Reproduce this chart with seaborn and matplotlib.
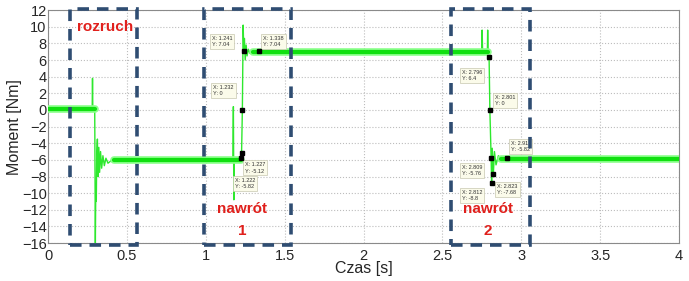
import matplotlib
matplotlib.use("Agg")
import matplotlib.pyplot as plt
import seaborn as sns
import pandas as pd
from matplotlib.patches import Rectangle

# ---- data -------------------------------------------------------------
time_s = [0.0, 0.280, 0.282, 0.284, 0.296, 0.300, 0.303, 0.306, 0.309, 0.313,
          0.317, 0.322, 0.327, 0.333, 0.340, 0.348, 0.357, 0.367, 0.380, 0.400,
          0.420, 0.700, 1.000, 1.172, 1.175, 1.178, 1.181, 1.222, 1.227, 1.232,
          1.237, 1.241, 1.245, 1.250, 1.256, 1.262, 1.270, 1.280, 1.295, 1.338,
          1.800, 2.300, 2.750, 2.752, 2.755, 2.785, 2.787, 2.790, 2.796, 2.801,
          2.809, 2.812, 2.816, 2.823, 2.830, 2.840, 2.855, 2.870, 2.910, 3.300,
          4.000]
torque_nm = [0.1, 0.1, 3.8, 0.1, 0.1, -16.0, -9.0, -11.0, -5.0, -3.5,
             -8.0, -4.5, -7.5, -5.0, -7.0, -5.5, -6.7, -5.8, -6.4, -6.1,
             -6.2, -6.1, -6.0, -5.9, 0.4, -10.8, -5.9, -5.82, -5.12, 0.0,
             10.2, 7.04, 8.6, 6.0, 7.8, 6.5, 7.3, 6.8, 7.1, 7.04,
             7.1, 7.0, 6.9, 9.6, 6.9, 6.8, 9.6, 6.6, 6.4, 0.0,
             -5.76, -8.8, -4.6, -7.68, -5.0, -6.6, -5.5, -6.1, -5.82, -5.9,
             -5.9]

# steady sections (thick, noisy band)
band_start = [0.0, 0.42, 1.30, 2.87]
band_end = [0.296, 1.222, 2.79, 4.0]
band_level = [0.1, -6.0, 7.0, -5.9]

# data tips
tip_x = [1.241, 1.338, 1.232, 1.222, 1.227, 2.796, 2.801, 2.91, 2.809, 2.823, 2.812]
tip_y = [7.04, 7.04, 0.0, -5.82, -5.12, 6.4, 0.0, -5.82, -5.76, -7.68, -8.8]
tip_text = ["X: 1.241\nY: 7.04", "X: 1.338\nY: 7.04", "X: 1.232\nY: 0",
            "X: 1.222\nY: -5.82", "X: 1.227\nY: -5.12", "X: 2.796\nY: 6.4",
            "X: 2.801\nY: 0", "X: 2.91\nY: -5.82", "X: 2.809\nY: -5.76",
            "X: 2.823\nY: -7.68", "X: 2.812\nY: -8.8"]
tip_dx = [-32, 4, -29, -6, 3, -27, 5, 4, -29, 4, -30]
tip_dy = [4, 4, 14, -31, -21, -24, 4, 6, -18, -21, -18]

# highlighted regions
box_x0 = [0.14, 0.987, 2.554]
box_x1 = [0.567, 1.54, 3.057]
box_label = ["rozruch", "nawrót", "nawrót"]
box_num = ["", "1", "2"]
label_x = [0.363, 1.23, 2.79]

x_ticks = [0, 0.5, 1, 1.5, 2, 2.5, 3, 3.5, 4]
x_tick_labels = ["0", "0.5", "1", "1.5", "2", "2.5", "3", "3.5", "4"]
y_ticks = list(range(-16, 13, 2))

# ---- plot -------------------------------------------------------------
sns.set_style("whitegrid", {"grid.linestyle": ":", "grid.color": "#b8b8b8",
                            "axes.edgecolor": "#8a8a8a"})
plt.rcParams["font.family"] = ["Liberation Sans", "DejaVu Sans"]

fig = plt.figure(figsize=(6.89, 2.81), dpi=100)
ax = fig.add_axes([0.0697, 0.135, 0.9158, 0.829])

df = pd.DataFrame({"t": time_s, "m": torque_nm})
sns.lineplot(data=df, x="t", y="m", ax=ax, color="#2ee82e", linewidth=1.0,
             estimator=None, sort=False, zorder=3)

for s, e, lv in zip(band_start, band_end, band_level):
    seg = pd.DataFrame({"t": [s, e], "m": [lv, lv]})
    sns.lineplot(data=seg, x="t", y="m", ax=ax, color="#8cff8c",
                 linewidth=5.5, estimator=None, zorder=3)
    sns.lineplot(data=seg, x="t", y="m", ax=ax, color="#10e010",
                 linewidth=3.0, estimator=None, zorder=3)

ax.set_xlim(0, 4)
ax.set_ylim(-16, 12)
ax.set_xticks(x_ticks)
ax.set_xticklabels(x_tick_labels)
ax.set_yticks(y_ticks)
ax.tick_params(axis="both", labelsize=10.5, length=3, direction="in",
               color="#8a8a8a")
ax.tick_params(axis="x", pad=4)
ax.tick_params(axis="y", pad=1)
ax.set_xlabel("Czas [s]", fontsize=11.5, labelpad=-1)
ax.set_ylabel("Moment [Nm]", fontsize=11.5, labelpad=0)
ax.grid(True, linestyle=":", color="#bdbdbd", linewidth=0.8)

# data tips
for x, y, txt, dx, dy in zip(tip_x, tip_y, tip_text, tip_dx, tip_dy):
    ax.plot([x], [y], marker="s", color="black", markersize=3.5, zorder=6,
            linestyle="none")
    ax.annotate(txt, xy=(x, y), xytext=(dx, dy), textcoords="offset pixels",
                fontsize=4.0, color="#333333", ha="left", va="bottom",
                linespacing=1.3, zorder=5,
                bbox=dict(boxstyle="square,pad=0.35", fc="#fbfbea",
                          ec="#c8c8b0", lw=0.5))

# dashed boxes and labels
for x0, x1, lab, num, lx in zip(box_x0, box_x1, box_label, box_num, label_x):
    ax.add_patch(Rectangle((x0, -16.2), x1 - x0, 28.3, fill=False,
                           ec="#2f4d72", lw=2.6, ls=(0, (3.2, 2.2)),
                           clip_on=False, zorder=7))
    if num == "":
        ax.text(lx, 10.0, lab, color="#e0201c", fontsize=11, weight="bold",
                ha="center", va="center", zorder=8)
    else:
        ax.text(lx, -11.9, lab, color="#e0201c", fontsize=11, weight="bold",
                ha="center", va="center", zorder=8)
        ax.text(lx, -14.5, num, color="#e0201c", fontsize=11, weight="bold",
                ha="center", va="center", zorder=8)

fig.savefig("out.png", dpi=100)
